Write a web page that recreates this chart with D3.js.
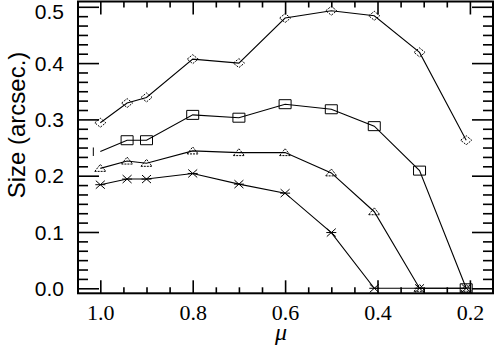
<!DOCTYPE html>
<html lang="en">
<head>
<meta charset="UTF-8">
<script src="https://d3js.org/d3.v7.min.js"></script>
<style>
  body { margin: 0; background: #fff; }
  .series { fill: none; stroke: #000; stroke-width: 1.1px; }
  .mark { fill: none; stroke: #000; stroke-width: 1px; }
</style>
</head>
<body>
<script>
// data
var mu = [1.0, 0.942, 0.9, 0.8, 0.7, 0.6, 0.5, 0.407, 0.309, 0.208];
var diamonds  = [0.294, 0.329, 0.339, 0.407, 0.400, 0.480, 0.493, 0.484, 0.419, 0.263];
var squares   = [0.243, 0.263, 0.263, 0.308, 0.303, 0.327, 0.318, 0.288, 0.209, 0.0];
var triangles = [0.213, 0.226, 0.222, 0.244, 0.241, 0.241, 0.205, 0.136, 0.0, 0.0];
var stars     = [0.184, 0.194, 0.194, 0.204, 0.185, 0.169, 0.099, 0.0, 0.0, 0.0];
var xTicks = [1.0, 0.8, 0.6, 0.4, 0.2];
var yTicks = [0.0, 0.1, 0.2, 0.3, 0.4, 0.5];

var width = 494, height = 345;
var plotLeft = 78, plotRight = 493, plotTop = 1.5, plotBottom = 293.3;

var x = d3.scaleLinear().domain([1.0483, 0.15]).range([plotLeft, plotRight]);
var y = d3.scaleLinear().domain([-0.0089, 0.5094]).range([plotBottom, plotTop]);

var svg = d3.select("body").append("svg")
    .attr("width", width)
    .attr("height", height);
svg.append("rect").attr("width", width).attr("height", height).attr("fill", "#fff");

// minor tick values
var xMinor = d3.range(21).map(function (i) { return +(1.0 - i * 0.05).toFixed(3); })
    .filter(function (v) { return xTicks.indexOf(v) < 0; });
var yMinor = d3.range(31).map(function (i) { return i * 0.1 / 6; })
    .filter(function (v) { return Math.abs(v * 10 - Math.round(v * 10)) > 1e-6; });

function styleAxis(g) {
    g.select(".domain").remove();
    g.selectAll("line").attr("stroke", "#000").attr("stroke-width", 1.6);
}

// bottom axis with labels
svg.append("g")
    .attr("transform", "translate(0," + plotBottom + ")")
    .call(d3.axisBottom(x).tickValues(xTicks).tickSizeInner(-13).tickPadding(11)
        .tickFormat(d3.format(".1f")))
    .call(styleAxis)
    .selectAll("text")
    .attr("font-family", "'Liberation Serif', 'Times New Roman', serif")
    .attr("font-size", 22)
    .attr("fill", "#000");
svg.append("g")
    .attr("transform", "translate(0," + plotBottom + ")")
    .call(d3.axisBottom(x).tickValues(xMinor).tickSizeInner(-6).tickFormat(""))
    .call(styleAxis);

// top axis
svg.append("g")
    .attr("transform", "translate(0," + plotTop + ")")
    .call(d3.axisTop(x).tickValues(xTicks).tickSizeInner(-13).tickFormat(""))
    .call(styleAxis);
svg.append("g")
    .attr("transform", "translate(0," + plotTop + ")")
    .call(d3.axisTop(x).tickValues(xMinor).tickSizeInner(-6).tickFormat(""))
    .call(styleAxis);

// left axis with labels
var yAxisG = svg.append("g")
    .attr("transform", "translate(" + plotLeft + ",0)")
    .call(d3.axisLeft(y).tickValues(yTicks).tickSizeInner(-21).tickPadding(14)
        .tickFormat(d3.format(".1f")))
    .call(styleAxis);
yAxisG.selectAll("text")
    .attr("font-family", "'Liberation Sans', Arial, sans-serif")
    .attr("font-size", 21)
    .attr("fill", "#000")
    .attr("dy", function (d) { return d === 0.5 ? "0.56em" : "0.34em"; });
svg.append("g")
    .attr("transform", "translate(" + plotLeft + ",0)")
    .call(d3.axisLeft(y).tickValues(yMinor).tickSizeInner(-10).tickFormat(""))
    .call(styleAxis);

// right axis
svg.append("g")
    .attr("transform", "translate(" + plotRight + ",0)")
    .call(d3.axisRight(y).tickValues(yTicks).tickSizeInner(-21).tickFormat(""))
    .call(styleAxis);
svg.append("g")
    .attr("transform", "translate(" + plotRight + ",0)")
    .call(d3.axisRight(y).tickValues(yMinor).tickSizeInner(-10).tickFormat(""))
    .call(styleAxis);

// frame
svg.append("rect")
    .attr("x", plotLeft).attr("y", plotTop)
    .attr("width", plotRight - plotLeft).attr("height", plotBottom - plotTop)
    .attr("fill", "none").attr("stroke", "#000").attr("stroke-width", 2);

// axis titles
svg.append("text")
    .attr("transform", "translate(25,125) rotate(-90)")
    .attr("text-anchor", "middle")
    .attr("font-family", "'Liberation Sans', Arial, sans-serif")
    .attr("font-size", 24)
    .text("Size (arcsec.)");
svg.append("text")
    .attr("x", 281).attr("y", 340)
    .attr("text-anchor", "middle")
    .attr("font-family", "'Liberation Serif', 'Times New Roman', serif")
    .attr("font-style", "italic")
    .attr("font-size", 24)
    .text("\u03bc");

// lines
var line = d3.line()
    .x(function (d) { return x(d[0]); })
    .y(function (d) { return y(d[1]); });

function pairs(vals) { return mu.map(function (m, i) { return [m, vals[i]]; }); }

[stars, triangles, squares, diamonds].forEach(function (vals) {
    svg.append("path").datum(pairs(vals)).attr("class", "series").attr("d", line);
});

// markers
var markers = svg.append("g");

markers.selectAll(".dia").data(pairs(diamonds)).enter().append("path")
    .attr("class", "mark")
    .attr("stroke-dasharray", "2,1.2")
    .attr("d", function (d) {
        var cx = x(d[0]), cy = y(d[1]);
        return "M" + (cx - 5.5) + "," + cy + "L" + cx + "," + (cy - 4.5) +
            "L" + (cx + 5.5) + "," + cy + "L" + cx + "," + (cy + 4.5) + "Z";
    });

// first square is only a small bar in the picture
markers.selectAll(".sq").data(pairs(squares)).enter().append("path")
    .attr("class", "mark")
    .attr("stroke-width", 1.3)
    .attr("d", function (d, i) {
        var cx = x(d[0]), cy = y(d[1]);
        if (i === 0) return "M" + (cx - 7) + "," + (cy - 4) + "V" + (cy + 4.5);
        return "M" + (cx - 6) + "," + (cy - 4.5) + "h12v9h-12Z";
    });

markers.selectAll(".tri").data(pairs(triangles)).enter().append("path")
    .attr("class", "mark")
    .attr("stroke-dasharray", "2,1")
    .attr("d", function (d) {
        var cx = x(d[0]), cy = y(d[1]);
        return "M" + (cx - 5.5) + "," + (cy + 3) + "L" + cx + "," + (cy - 4) +
            "L" + (cx + 5.5) + "," + (cy + 3) + "Z";
    });

markers.selectAll(".star").data(pairs(stars)).enter().append("path")
    .attr("class", "mark")
    .attr("stroke-width", 0.8)
    .attr("d", function (d) {
        var cx = x(d[0]), cy = y(d[1]);
        return "M" + (cx - 5) + "," + cy + "h10" +
            "M" + (cx - 4.5) + "," + (cy - 4) + "L" + (cx + 4.5) + "," + (cy + 4) +
            "M" + (cx - 4.5) + "," + (cy + 4) + "L" + (cx + 4.5) + "," + (cy - 4);
    });
</script>
</body>
</html>
